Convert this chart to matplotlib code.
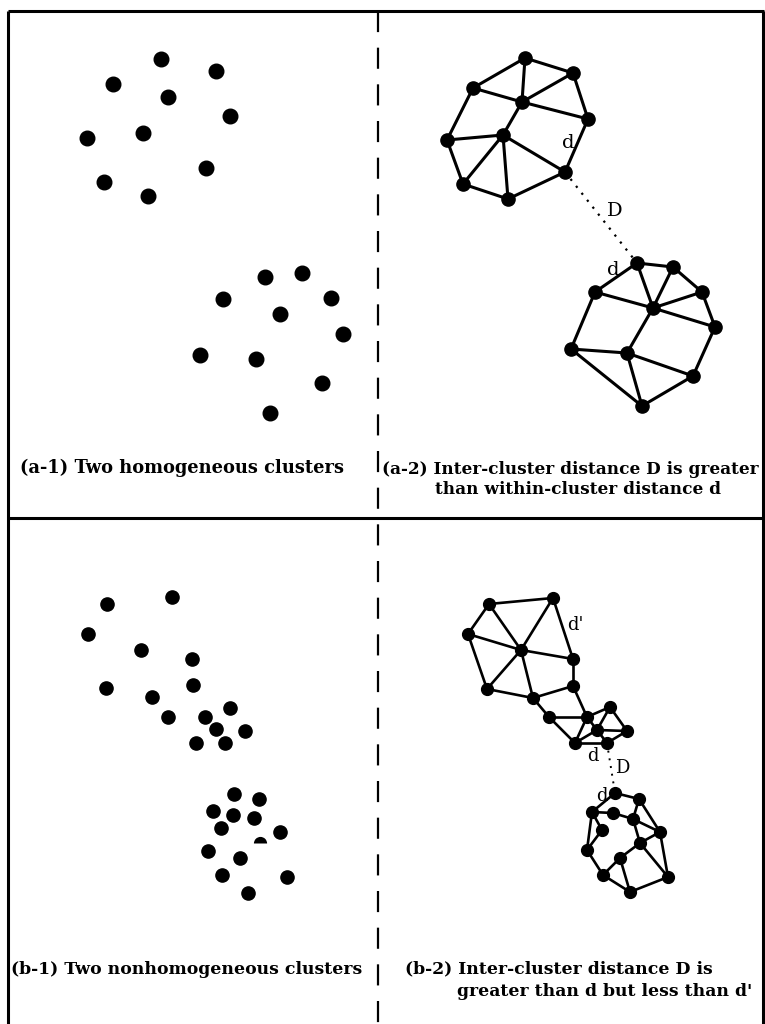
import matplotlib
matplotlib.use('Agg')
import matplotlib.pyplot as plt

plt.rcParams['font.family'] = ['DejaVu Serif']

INK = '#000000'
PAPER = '#ffffff'

# ---- panel (a-1): two homogeneous clusters (pixel coords) ----
a1_x = [161, 216, 113, 168, 230, 143, 87, 206, 104, 148,
        265, 302, 223, 331, 280, 343, 200, 256, 322, 270]
a1_y = [59, 71, 84, 97, 116, 133, 138, 168, 182, 196,
        277, 273, 299, 298, 314, 334, 355, 359, 383, 413]

# ---- panel (a-2): the same clusters joined by their graphs ----
a2_top_x = [525, 573, 473, 522, 588, 447, 503, 565, 463, 508]
a2_top_y = [58, 73, 88, 102, 119, 140, 135, 172, 184, 199]
a2_top_edges = [(0, 1), (0, 2), (0, 3), (1, 3), (1, 4), (2, 3), (2, 5), (3, 4),
                (3, 6), (5, 6), (5, 8), (6, 8), (6, 9), (6, 7), (4, 7), (8, 9), (9, 7)]

a2_bot_x = [637, 673, 595, 702, 653, 715, 571, 627, 693, 642]
a2_bot_y = [263, 267, 292, 292, 308, 327, 349, 353, 376, 406]
a2_bot_edges = [(0, 1), (0, 2), (0, 4), (1, 4), (1, 3), (2, 4), (3, 4), (3, 5),
                (4, 5), (2, 6), (4, 7), (6, 7), (7, 8), (5, 8), (6, 9), (7, 9), (8, 9)]
a2_link = (7, 0)   # top node -> bottom node, the distance D

# ---- panel (b-1): two nonhomogeneous clusters ----
b1_x = [107, 172, 88, 141, 192, 106, 193, 152, 168, 230, 205, 216, 245, 196, 225,
        234, 259, 213, 233, 254, 221, 280, 208, 240, 222, 287, 248]
b1_y = [604, 597, 634, 650, 659, 688, 685, 697, 717, 708, 717, 729, 731, 743, 743,
        794, 799, 811, 815, 818, 828, 832, 851, 858, 875, 877, 893]
b1_broken = (260, 843)

# ---- panel (b-2): graphs of the nonhomogeneous clusters ----
b2_top_x = [489, 553, 468, 521, 573, 487, 573, 533, 549, 587, 610, 627, 597, 575, 607]
b2_top_y = [604, 598, 634, 650, 659, 689, 686, 698, 717, 717, 707, 731, 730, 743, 743]
b2_top_edges = [(0, 1), (0, 2), (0, 3), (1, 3), (1, 4), (2, 3), (2, 5), (3, 5), (3, 4),
                (3, 7), (5, 7), (4, 6), (7, 6), (6, 9), (7, 8), (8, 9), (8, 13), (9, 13),
                (9, 10), (10, 11), (9, 12), (10, 12), (12, 11), (12, 13), (12, 14),
                (13, 14), (14, 11)]

b2_bot_x = [615, 639, 592, 613, 633, 602, 660, 640, 587, 620, 603, 668, 630]
b2_bot_y = [793, 799, 812, 813, 819, 830, 832, 843, 850, 858, 875, 877, 892]
b2_bot_edges = [(0, 1), (0, 2), (2, 3), (3, 4), (1, 4), (1, 6), (4, 6), (4, 7),
                (6, 7), (2, 5), (2, 8), (5, 8), (8, 10), (10, 9), (9, 7), (9, 12),
                (10, 12), (12, 11), (11, 6), (11, 7)]
b2_link = (14, 0)

fig = plt.figure(figsize=(7.65, 10.24), dpi=100)
fig.patch.set_facecolor(PAPER)
ax = fig.add_axes([0, 0, 1, 1])
ax.set_xlim(0, 765)
ax.set_ylim(1024, 0)
ax.axis('off')

# frame, horizontal divider and the dashed centre line
ax.plot([8, 764], [11, 11], color=INK, lw=2.2, solid_capstyle='butt')
ax.plot([8, 8], [11, 1024], color=INK, lw=2.2, solid_capstyle='butt')
ax.plot([763, 763], [11, 1024], color=INK, lw=2.2, solid_capstyle='butt')
ax.plot([8, 764], [518, 518], color=INK, lw=2.2, solid_capstyle='butt')
ax.plot([378, 378], [11, 1024], color=INK, lw=1.6, linestyle=(0, (9.5, 7)))


def draw_graph(xs, ys, edges, ms, lw):
    for i, j in edges:
        ax.plot([xs[i], xs[j]], [ys[i], ys[j]], color=INK, lw=lw,
                solid_capstyle='round', zorder=2)
    ax.plot(xs, ys, 'o', color=INK, ms=ms, mec=INK, zorder=3)


def draw_link(x1, y1, x2, y2, lw):
    ax.plot([x1, x2], [y1, y2], color=INK, lw=lw, linestyle=(0, (1, 3)), zorder=1)


# (a-1)
ax.plot(a1_x, a1_y, 'o', color=INK, ms=10.5)

# (a-2)
draw_graph(a2_top_x, a2_top_y, a2_top_edges, 9.5, 2.2)
draw_graph(a2_bot_x, a2_bot_y, a2_bot_edges, 9.5, 2.2)
i, j = a2_link
draw_link(a2_top_x[i], a2_top_y[i], a2_bot_x[j], a2_bot_y[j], 1.6)
ax.text(568, 143, 'd', fontsize=14, ha='center', va='center')
ax.text(615, 211, 'D', fontsize=14, ha='center', va='center')
ax.text(613, 270, 'd', fontsize=14, ha='center', va='center')

# (b-1)
ax.plot(b1_x, b1_y, 'o', color=INK, ms=9.5)
ax.plot(*b1_broken, 'o', color=INK, ms=9.5, fillstyle='top', mew=0)

# (b-2)
draw_graph(b2_top_x, b2_top_y, b2_top_edges, 8.5, 1.9)
draw_graph(b2_bot_x, b2_bot_y, b2_bot_edges, 8.5, 1.9)
i, j = b2_link
draw_link(b2_top_x[i], b2_top_y[i], b2_bot_x[j], b2_bot_y[j], 1.4)
ax.text(575, 625, "d'", fontsize=13, ha='center', va='center')
ax.text(593, 756, 'd', fontsize=13, ha='center', va='center')
ax.text(622, 768, 'D', fontsize=13, ha='center', va='center')
ax.text(602, 796, 'd', fontsize=13, ha='center', va='center')

# captions
cap = dict(fontweight='bold', va='center', ha='left')
ax.text(20, 468, '(a-1) Two homogeneous clusters', fontsize=12.9, **cap)
ax.text(382, 469, '(a-2) Inter-cluster distance D is greater', fontsize=12.2, **cap)
ax.text(435, 489, 'than within-cluster distance d', fontsize=12.2, **cap)
ax.text(11, 969, '(b-1) Two nonhomogeneous clusters', fontsize=12.4, **cap)
ax.text(405, 969, '(b-2) Inter-cluster distance D is', fontsize=12.4, **cap)
ax.text(457, 991, "greater than d but less than d'", fontsize=12.4, **cap)

plt.savefig('out.png', dpi=100, facecolor=PAPER)
plt.close()
